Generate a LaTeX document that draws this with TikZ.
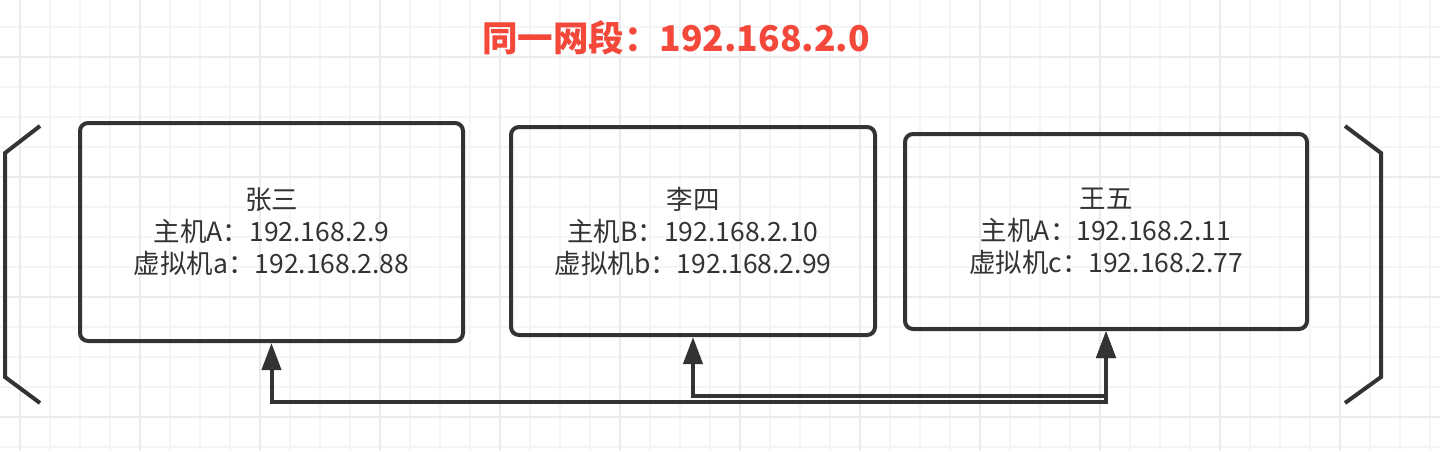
\documentclass[tikz,border=0pt]{standalone}
\usepackage{fontspec}
\setmainfont{Noto Sans CJK SC}
\usetikzlibrary{arrows.meta, positioning}
\definecolor{ink}{HTML}{333333}
\definecolor{titlered}{HTML}{F4483A}
\definecolor{gridfine}{HTML}{F5F5F5}
\definecolor{gridbold}{HTML}{EBEBEB}

\begin{document}
\begin{tikzpicture}[x=1pt,y=-1pt,
  host/.style={draw=ink,line width=4pt,rounded corners=8pt,inner sep=0pt,align=center,
    text=ink,font=\fontsize{26.5}{32}\selectfont},
  link/.style={draw=ink,line width=4pt,{Triangle[width=19pt,length=27pt]}-{Triangle[width=19pt,length=27pt]}},
  bracket/.style={draw=ink,line width=4pt}]
  \useasboundingbox (0,0) rectangle (1440,451);
  \fill[white] (0,0) rectangle (1440,451);
  \foreach \x in {20,50,...,1430} \draw[gridfine,line width=1.5pt] (\x,0) -- (\x,451);
  \foreach \y in {27,57,...,447} \draw[gridfine,line width=1.5pt] (0,\y) -- (1440,\y);
  \foreach \x in {20,140,...,1430} \draw[gridbold,line width=1.5pt] (\x,0) -- (\x,451);
  \foreach \y in {57,177,...,447} \draw[gridbold,line width=1.5pt] (0,\y) -- (1440,\y);

  \node[text=titlered,font=\fontsize{35.5}{40}\selectfont\bfseries] (title) at (676,38) {同一网段：192.168.2.0};

  \node[host,minimum width=383pt,minimum height=218pt] (zhang) at (271.5,232) {张三\\主机A：192.168.2.9\\虚拟机a：192.168.2.88};
  \node[host,minimum width=364pt,minimum height=208pt] (li)    at (693,231)   {李四\\主机B：192.168.2.10\\虚拟机b：192.168.2.99};
  \node[host,minimum width=402pt,minimum height=195pt] (wang)  at (1106,231.5) {王五\\主机A：192.168.2.11\\虚拟机c：192.168.2.77};

  \coordinate (busA) at (0,401.5);
  \coordinate (busB) at (0,396);
  \path[link] (zhang.south) -- (zhang.south |- busA) -- (wang.south |- busA) -- (wang.south);
  \path[link] (li.south) -- (li.south |- busB) -- (wang.south |- busB) -- (wang.south);

  \draw[bracket] (40,126) -- (5,153) -- (5,377) -- (40,403);
  \draw[bracket] (1345,126) -- (1381,153) -- (1381,377) -- (1345,403);
\end{tikzpicture}
\end{document}
